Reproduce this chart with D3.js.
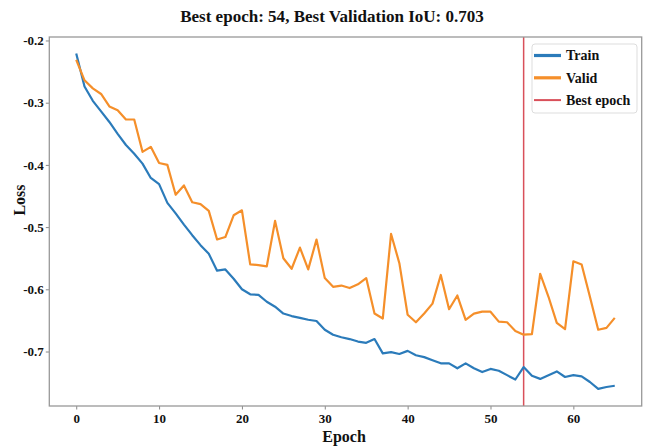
<!DOCTYPE html>
<html><head><meta charset="utf-8">
<script src="https://cdn.jsdelivr.net/npm/d3@7"></script>
<style>body{margin:0;background:#fff}svg{display:block}</style>
</head><body>
<svg id="c" width="650" height="446"></svg>
<script>
const epochs = d3.range(0, 66);
const trainLoss = [-0.221,-0.274,-0.297,-0.314,-0.331,-0.350,-0.368,-0.382,-0.398,-0.421,-0.431,-0.461,-0.478,-0.496,-0.513,-0.529,-0.543,-0.570,-0.568,-0.583,-0.600,-0.608,-0.609,-0.620,-0.628,-0.639,-0.643,-0.646,-0.649,-0.651,-0.665,-0.673,-0.677,-0.680,-0.684,-0.686,-0.680,-0.703,-0.701,-0.704,-0.699,-0.706,-0.709,-0.714,-0.719,-0.719,-0.727,-0.719,-0.727,-0.733,-0.728,-0.731,-0.738,-0.745,-0.725,-0.739,-0.744,-0.738,-0.732,-0.741,-0.738,-0.740,-0.749,-0.760,-0.757,-0.755];
const validLoss = [-0.231,-0.264,-0.277,-0.286,-0.306,-0.312,-0.327,-0.327,-0.379,-0.371,-0.397,-0.400,-0.448,-0.433,-0.460,-0.463,-0.474,-0.520,-0.516,-0.481,-0.473,-0.560,-0.561,-0.563,-0.490,-0.550,-0.567,-0.533,-0.568,-0.520,-0.582,-0.596,-0.594,-0.598,-0.592,-0.582,-0.639,-0.647,-0.511,-0.558,-0.641,-0.653,-0.639,-0.623,-0.577,-0.632,-0.610,-0.649,-0.639,-0.636,-0.636,-0.652,-0.653,-0.667,-0.673,-0.672,-0.575,-0.612,-0.654,-0.664,-0.555,-0.560,-0.612,-0.665,-0.662,-0.646];
const bestEpoch = 54;
const xTicks = [0,10,20,30,40,50,60];
const yTicks = [-0.7,-0.6,-0.5,-0.4,-0.3,-0.2];
const titleText = "Best epoch: 54, Best Validation IoU: 0.703";
const legendItems = [{label:"Train", color:"#2b7bba", w:3.2},{label:"Valid", color:"#f58f2a", w:3.2},{label:"Best epoch", color:"#d9505a", w:2}];

const svg = d3.select("#c");
const L = 49.3, R = 641.7, T = 37, B = 406;
const font = "'Liberation Serif','Times New Roman',serif";

const x = d3.scaleLinear().domain([-3.25, 68.25]).range([L, R]);
const y = d3.scaleLinear().domain([-0.7876, -0.1944]).range([B, T]);

// best epoch line
svg.append("line").attr("x1", x(bestEpoch)).attr("x2", x(bestEpoch))
  .attr("y1", T).attr("y2", B).attr("stroke", "#d9505a").attr("stroke-width", 1.5);

const line = d3.line().x((d,i)=>x(epochs[i])).y(d=>y(d));
svg.append("path").datum(trainLoss).attr("d", line).attr("fill","none")
  .attr("stroke","#2b7bba").attr("stroke-width",2.2).attr("stroke-linejoin","round");
svg.append("path").datum(validLoss).attr("d", line).attr("fill","none")
  .attr("stroke","#f58f2a").attr("stroke-width",2.2).attr("stroke-linejoin","round");

// axes
const xAxis = svg.append("g").attr("transform",`translate(0,${B})`)
  .call(d3.axisBottom(x).tickValues(xTicks).tickFormat(d3.format("d")).tickSize(3.5).tickPadding(4));
const yAxis = svg.append("g").attr("transform",`translate(${L},0)`)
  .call(d3.axisLeft(y).tickValues(yTicks).tickFormat(d=>d.toFixed(1)).tickSize(3.5).tickPadding(2));
[xAxis,yAxis].forEach(a=>{
  a.select(".domain").remove();
  a.selectAll(".tick line").attr("stroke","#888").attr("stroke-width",1);
  a.selectAll(".tick text").attr("font-family",font).attr("font-weight","bold")
    .attr("font-size",13).attr("fill","#111");
});

// frame
svg.append("rect").attr("x",L).attr("y",T).attr("width",R-L).attr("height",B-T)
  .attr("fill","none").attr("stroke","#999").attr("stroke-width",1.3);

// title
const title = svg.append("text").attr("x",332).attr("y",22).attr("text-anchor","middle")
  .attr("font-family",font).attr("font-weight","bold").attr("font-size",14).attr("fill","#111").text(titleText);
const tw = title.node().getComputedTextLength();
title.attr("font-size", 14*304/tw);

// axis labels
svg.append("text").attr("x",344).attr("y",442).attr("text-anchor","middle")
  .attr("font-family",font).attr("font-weight","bold").attr("font-size",16).attr("fill","#111").text("Epoch");
svg.append("text").attr("transform","translate(25,200) rotate(-90)").attr("text-anchor","middle")
  .attr("font-family",font).attr("font-weight","bold").attr("font-size",16).attr("fill","#111").text("Loss");

// legend
const lg = svg.append("g");
lg.append("rect").attr("x",532).attr("y",44).attr("width",105).attr("height",69).attr("rx",3)
  .attr("fill","#fff").attr("fill-opacity",0.9).attr("stroke","#ddd").attr("stroke-width",1);
legendItems.forEach((it,i)=>{
  const yy = 55.5 + i*22.3;
  lg.append("line").attr("x1",534).attr("x2",561).attr("y1",yy).attr("y2",yy)
    .attr("stroke",it.color).attr("stroke-width",it.w);
  lg.append("text").attr("x",566).attr("y",yy+4.8).attr("font-family",font).attr("font-weight","bold")
    .attr("font-size",14).attr("fill","#111").text(it.label);
});
</script>
</body></html>
